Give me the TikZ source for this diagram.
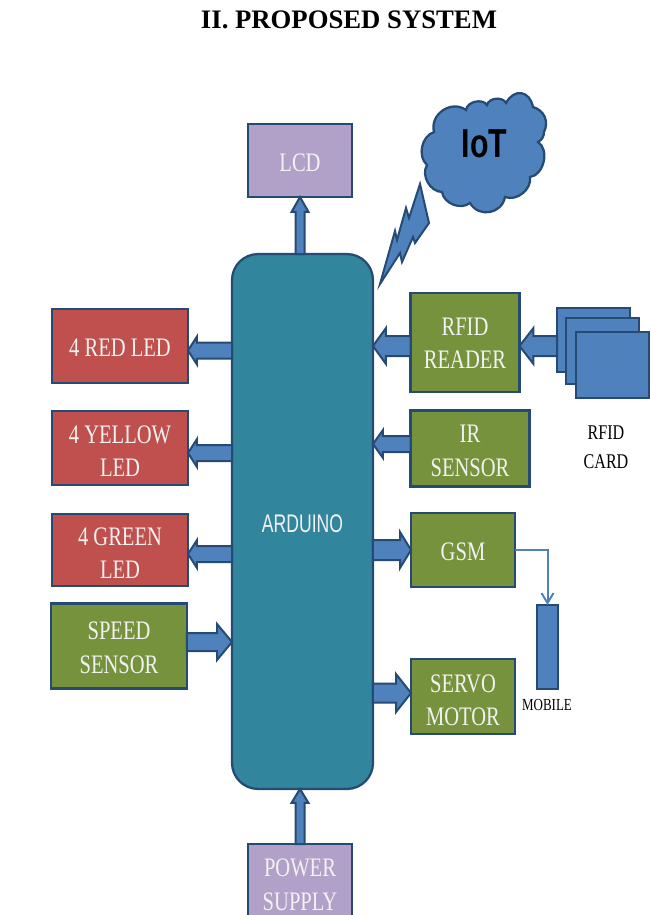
\documentclass[tikz,border=0pt]{standalone}
\usepackage{fontspec}
\setmainfont{Liberation Serif}
\newfontfamily\boxfont[FakeStretch=0.77]{Liberation Serif}
\newfontfamily\cloudfont[FakeStretch=0.75]{Liberation Sans}
\newfontfamily\ardufont[FakeStretch=0.69]{Liberation Sans}
\usetikzlibrary{calc,arrows.meta}
\definecolor{edgeblue}{HTML}{254A73}
\definecolor{arrowblue}{HTML}{4F81BD}
\definecolor{arduteal}{HTML}{31859C}
\definecolor{ledred}{HTML}{C0504D}
\definecolor{partgreen}{HTML}{76923C}
\definecolor{panelpurple}{HTML}{B1A0C7}
\tikzset{
  box/.style={draw=edgeblue,line width=0.045cm,inner sep=0pt,outer sep=0pt,align=center,text=white!95!black,
    font=\boxfont\fontsize{15.2pt}{18.9pt}\selectfont,text height=12.5pt},
  twolines/.style={text height=#1,text depth=0pt},
  ledbox/.style={box,fill=ledred,minimum width=2.72cm,minimum height=1.47cm},
  partbox/.style={box,fill=partgreen},
  panelbox/.style={box,fill=panelpurple,minimum width=2.08cm},
  cardbox/.style={draw=edgeblue,line width=0.045cm,fill=arrowblue,minimum width=1.46cm,inner sep=0pt,outer sep=0pt},
  blackcap/.style={text=black,align=center,font=\boxfont\fontsize{11.9pt}{16.4pt}\selectfont},
  fatline/.style={draw=edgeblue,line width=0.04cm,fill=arrowblue,line join=miter}
}
\newcommand{\blockarrow}[5]{
  \coordinate (headbase) at ($(#2)!#5*0.02cm!(#1)$);
  \draw[fatline] ($(#1)!#3*0.02cm!90:(#2)$) -- ($(headbase)!#3*0.02cm!-90:(#1)$)
    -- ($(headbase)!#4*0.02cm!-90:(#1)$) -- (#2) -- ($(headbase)!#4*0.02cm!90:(#1)$)
    -- ($(headbase)!#3*0.02cm!90:(#1)$) -- ($(#1)!#3*0.02cm!-90:(#2)$) -- cycle;
}
\begin{document}
\begin{tikzpicture}[x=0.02cm,y=-0.02cm]
\useasboundingbox (0,0) rectangle (650,915);
\clip (0,0) rectangle (650,915);
\node[font=\bfseries\fontsize{15.2pt}{16pt}\selectfont] (title) at (349,20) {II. PROPOSED SYSTEM};
\node[box,fill=arduteal,minimum width=2.82cm,minimum height=10.7cm,rounded corners=0.52cm,
  font=\ardufont\fontsize{14.5pt}{16pt}\selectfont] (ardu) at (302.5,521.5) {ARDUINO};
\node[panelbox,minimum height=1.46cm] (lcd) at (300,160.5) {LCD};
\node[panelbox,minimum height=1.6cm,twolines=29.8pt] (power) at (300,884) {POWER\\SUPPLY};
\node[ledbox] (red) at (120,346) {4 RED LED};
\node[ledbox,twolines=32.6pt] (yellow) at (120,448) {4 YELLOW\\LED};
\node[ledbox,minimum height=1.44cm,twolines=32.6pt] (green) at (120,550) {4 GREEN\\LED};
\node[partbox,minimum width=2.72cm,minimum height=1.7cm,twolines=30.9pt] (speed) at (119,646) {SPEED\\SENSOR};
\node[partbox,minimum width=2.18cm,minimum height=1.98cm,twolines=29.8pt] (reader) at (465,342.5) {RFID\\READER};
\node[partbox,minimum width=2.38cm,minimum height=1.52cm,twolines=31.5pt] (ir) at (470,448.5) {IR\\SENSOR};
\node[partbox,minimum width=2.08cm,minimum height=1.48cm] (gsm) at (463,550) {GSM};
\node[partbox,minimum width=2.08cm,minimum height=1.5cm,twolines=33.2pt] (servo) at (463,696.5) {SERVO\\MOTOR};
\node[cardbox,minimum height=1.28cm] (carda) at (593.5,340) {};
\node[cardbox,minimum height=1.32cm] (cardb) at (602.5,351) {};
\node[cardbox,minimum height=1.32cm] (cardc) at (612.5,365) {};
\node[blackcap] (cardtext) at (606,447.5) {RFID\\CARD};
\node[cardbox,minimum width=0.42cm,minimum height=1.68cm] (mobile) at (547.5,647) {};
\node[blackcap,font=\boxfont\fontsize{9.6pt}{11pt}\selectfont] (mobiletext) at (547,705) {MOBILE};
\draw[fatline,line width=0.045cm] (434,132) to[bend left=70,looseness=1.2] (466,110) to[bend left=70] (487,105) to[bend left=70] (506,103)
  to[bend left=70,looseness=1.6] (533,107) to[bend left=50,looseness=1.1] (544,132) to[bend left=30] (538,142) to[bend left=70] (530,177)
  to[bend left=60] (505,197) to[bend left=70,looseness=1.25] (470,203) to[bend left=60] (442,192) to[bend left=60] (427,165)
  to[bend left=60] cycle;
\node[text=black,font=\cloudfont\bfseries\fontsize{23pt}{24pt}\selectfont] (iot) at (484.5,143.5) {IoT};
\draw[fatline] (420,184) -- (429,223) -- (415,243) -- (413,237) -- (402,262) -- (400,253) -- (380,284)
  -- (395,231) -- (397,240) -- (406,208) -- (409,218) -- cycle;
\coordinate (arduup) at (ardu.north -| lcd.south);
\coordinate (ardudown) at (ardu.south -| power.north);
\coordinate (ardured) at (ardu.west |- 0,350.5);
\coordinate (redin) at (red.east |- 0,350.5);
\coordinate (arduyellow) at (ardu.west |- 0,453);
\coordinate (yellowin) at (yellow.east |- 0,453);
\coordinate (ardugreen) at (ardu.west |- 0,554);
\coordinate (greenin) at (green.east |- 0,554);
\coordinate (speedout) at (speed.east |- 0,642);
\coordinate (arduspeed) at (ardu.west |- 0,642);
\coordinate (readerout) at (reader.west |- 0,346);
\coordinate (ardureader) at (ardu.east |- 0,346);
\coordinate (cardout) at (carda.west |- 0,346);
\coordinate (readerin) at (reader.east |- 0,346);
\coordinate (irout) at (ir.west |- 0,444);
\coordinate (arduir) at (ardu.east |- 0,444);
\coordinate (arduservo) at (ardu.east |- 0,693);
\coordinate (servoin) at (servo.west |- 0,693);
\blockarrow{arduup}{lcd.south}{4.5}{8.5}{15}
\blockarrow{power.north}{ardudown}{4.5}{8.5}{14}
\blockarrow{ardured}{redin}{8}{14}{9}
\blockarrow{arduyellow}{yellowin}{8}{14}{9}
\blockarrow{ardugreen}{greenin}{8}{14}{9}
\blockarrow{speedout}{arduspeed}{9}{18}{15}
\blockarrow{readerout}{ardureader}{10}{18}{13}
\blockarrow{cardout}{readerin}{10}{18}{14}
\blockarrow{irout}{arduir}{8}{14}{10}
\blockarrow{ardu.east |- gsm.west}{gsm.west}{10}{18}{11}
\blockarrow{arduservo}{servoin}{9.5}{19}{15}
\draw[arrowblue,line width=0.04cm,-{Straight Barb[length=0.2cm,width=0.24cm]}] (gsm.east) -| (mobile.north);
\end{tikzpicture}
\end{document}
